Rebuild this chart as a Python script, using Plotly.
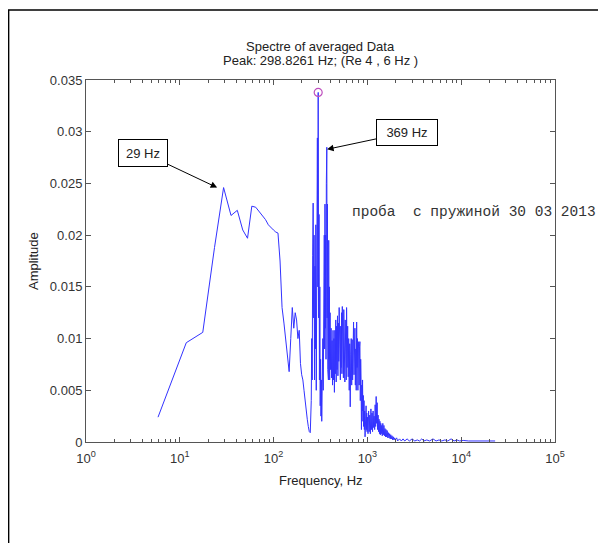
import math
import plotly.graph_objects as go

# ---------------- data ----------------
freq_hz = [
    5.86, 11.72, 17.58, 23.44, 29.30, 35.16, 41.02, 46.88, 52.73, 58.59,
    64.45, 70.31, 76.17, 82.03, 87.89, 93.75, 99.61, 105.47, 111.33, 117.19,
    123.05, 128.91, 134.77, 140.63, 146.48, 152.34, 158.20, 164.06, 169.92, 175.78,
    181.64, 187.50, 193.36, 199.22, 205.08, 210.94, 216.80, 222.66, 228.52, 234.38,
    240.23, 246.09,
    252, 255, 258, 261, 264, 267, 270, 273, 276, 279,
    282, 285, 288, 291, 293, 296, 298.83, 302, 305, 308,
    311, 314, 317, 320, 323, 326, 329, 332, 335, 338,
    341, 344, 347, 350, 353, 356, 359, 362, 365, 369.14,
    372, 375, 378, 381, 384, 387, 390, 393, 396,
    400, 405, 410, 415, 420, 425, 430, 435, 440, 445,
    450, 455, 460, 465, 470, 475, 480, 485, 490, 495,
    500, 505, 510, 515, 520, 525, 530, 535, 540, 545,
    550, 555, 560, 565, 570, 575, 580, 585, 590, 595,
    600, 608, 616, 624, 632, 640, 648, 656, 664, 672,
    680, 688, 696, 704, 712, 720, 728, 736, 744, 752,
    760, 768, 776, 784, 792, 800, 808, 816, 824, 832,
    840, 848, 856, 864, 872, 880, 888, 896, 904, 912,
    920, 928, 936, 944, 952, 960, 968, 976, 984, 992,
    1000, 1015, 1030, 1045, 1060, 1075, 1090, 1105, 1120, 1135,
    1150, 1165, 1180, 1195, 1210, 1225, 1240, 1255, 1270, 1285,
    1300, 1315, 1330, 1345, 1360, 1375, 1390, 1405, 1420, 1440,
    1460, 1480, 1500, 1520, 1540, 1560, 1580, 1600, 1625, 1650,
    1675, 1700, 1725, 1750, 1775, 1800, 1830, 1860, 1890, 1920,
    1950, 1980, 2050, 2100, 2200, 2300, 2400, 2500, 2650, 2800,
    3000, 3200, 3400, 3600, 3800, 4000, 4300, 4600, 5000, 5400,
    5800, 6200, 6700, 7200, 7800, 8400, 9000, 9600, 10500, 12000,
    14000, 17000, 20000, 23000,
]
amplitude = [
    0.0024, 0.0096, 0.0106, 0.0188, 0.0246, 0.0219, 0.0224, 0.0205, 0.0197, 0.0228,
    0.0227, 0.0223, 0.0219, 0.0215, 0.0210, 0.0207, 0.0205, 0.0203, 0.0202, 0.0175,
    0.0130, 0.0115, 0.0100, 0.0085, 0.0068, 0.0100, 0.0130, 0.0110, 0.0125, 0.0118,
    0.0100, 0.0108, 0.0076, 0.0065, 0.0060, 0.0050, 0.0038, 0.0030, 0.0022, 0.0015,
    0.0010, 0.0009,
    0.0040, 0.0100, 0.0060, 0.0180, 0.0231, 0.0120, 0.0200, 0.0060, 0.0170, 0.0090,
    0.0210, 0.0050, 0.0180, 0.0100, 0.0294, 0.0150, 0.0338, 0.0120, 0.0220, 0.0060,
    0.0150, 0.0035, 0.0080, 0.0025, 0.0060, 0.0020, 0.0045, 0.0030, 0.0100, 0.0050,
    0.0160, 0.0070, 0.0200, 0.0090, 0.0230, 0.0110, 0.0200, 0.0080, 0.0250, 0.0285,
    0.0120, 0.0230, 0.0070, 0.0180, 0.0060, 0.0195, 0.0080, 0.0150, 0.0060,
    0.0125, 0.0070, 0.0110, 0.0062, 0.0098, 0.0055, 0.0108, 0.0060, 0.0100, 0.0048,
    0.0108, 0.0066, 0.0118, 0.0058, 0.0112, 0.0070, 0.0122, 0.0064, 0.0115, 0.0078,
    0.0130, 0.0068, 0.0120, 0.0060, 0.0112, 0.0072, 0.0125, 0.0066, 0.0131, 0.0075,
    0.0120, 0.0062, 0.0128, 0.0070, 0.0110, 0.0058, 0.0118, 0.0064, 0.0105, 0.0060,
    0.0130, 0.0072, 0.0112, 0.0063, 0.0100, 0.0050, 0.0095, 0.0034, 0.0085, 0.0100,
    0.0055, 0.0099, 0.0060, 0.0105, 0.0116, 0.0065, 0.0105, 0.0110, 0.0055, 0.0090,
    0.0050, 0.0116, 0.0072, 0.0100, 0.0050, 0.0090, 0.0097, 0.0055, 0.0092, 0.0097,
    0.0040, 0.0080, 0.0060, 0.0012, 0.0055, 0.0030, 0.0060, 0.0020, 0.0045, 0.0015,
    0.0040, 0.0012, 0.0030, 0.0005, 0.0032, 0.0015, 0.0035, 0.0012, 0.0028, 0.0010,
    0.0024, 0.0008, 0.0030, 0.0010, 0.0026, 0.0008, 0.0032, 0.0012, 0.0028, 0.0010,
    0.0030, 0.0014, 0.0025, 0.0012, 0.0036, 0.0015, 0.0044, 0.0018, 0.0038, 0.0012,
    0.0026, 0.0010, 0.0022, 0.0008, 0.0020, 0.0007, 0.0018, 0.0008, 0.0016, 0.0006,
    0.0018, 0.0007, 0.0016, 0.0006, 0.0013, 0.0005, 0.0012, 0.0005, 0.0011, 0.0004,
    0.0009, 0.0004, 0.0008, 0.0003, 0.0007, 0.0003, 0.0006, 0.0002, 0.0005, 0.0002,
    0.0004, 0.0002, 0.0004, 0.0001, 0.0003, 0.0001, 0.0003, 0.0001, 0.0003, 0.0001,
    0.0003, 0.0001, 0.0002, 0.0001, 0.0003, 0.0001, 0.0002, 0.0001, 0.0003, 0.0001,
    0.0002, 0.0001, 0.0002, 0.0001, 0.0003, 0.0001, 0.0002, 0.0001, 0.00015, 0.0001,
    0.00012, 0.0001, 0.0001, 0.0001,
]
peak_freq = [298.8261]
peak_amp = [0.0338]

x_tick_vals = [1, 10, 100, 1000, 10000, 100000]
x_tick_text = ["10<sup>0</sup>", "10<sup>1</sup>", "10<sup>2</sup>",
               "10<sup>3</sup>", "10<sup>4</sup>", "10<sup>5</sup>"]
y_tick_vals = [0, 0.005, 0.01, 0.015, 0.02, 0.025, 0.03, 0.035]
y_tick_text = ["0", "0.005", "0.01", "0.015", "0.02", "0.025", "0.03", "0.035"]

title_line1 = "Spectre of averaged Data"
title_line2 = "Peak: 298.8261 Hz; (Re 4 , 6 Hz )"
note_text = "проба  с пружиной 30 03 2013"
arrow1 = {"text": "29 Hz", "f": 25.0, "a": 0.0246}
arrow2 = {"text": "369 Hz", "f": 372.0, "a": 0.0283}

# ---------------- figure ----------------
FONT = "Liberation Sans, Arial, sans-serif"
AX = "#555555"
FS = 13

fig = go.Figure()
fig.add_trace(go.Scatter(
    x=freq_hz, y=amplitude, mode="lines",
    line=dict(color="rgb(50,50,255)", width=1),
    showlegend=False, hoverinfo="x+y",
))
fig.add_trace(go.Scatter(
    x=peak_freq, y=peak_amp, mode="markers",
    marker=dict(symbol="circle-open", size=8, color="rgb(190,80,190)",
                line=dict(width=1.2)),
    showlegend=False,
))

# page body has an 8px margin: figure is 598x535 so that it ends at the window edge
fig.update_layout(
    width=598, height=535,
    margin=dict(l=78, r=51, t=72, b=101),
    paper_bgcolor="white", plot_bgcolor="white",
    font=dict(family=FONT, size=FS, color="#333333"),
    showlegend=False,
)
fig.update_xaxes(
    type="log", range=[0, 5],
    tickvals=x_tick_vals, ticktext=x_tick_text,
    ticks="inside", ticklen=5, tickcolor=AX,
    minor=dict(ticks="inside", ticklen=3, dtick="D1", tickcolor=AX, showgrid=False),
    showline=True, linecolor=AX, linewidth=1, mirror="ticks",
    showgrid=False, zeroline=False, ticklabelstandoff=4,
    tickfont=dict(family=FONT, size=FS, color="#333333"),
)
fig.update_yaxes(
    range=[0, 0.035],
    tickvals=y_tick_vals, ticktext=y_tick_text,
    ticks="inside", ticklen=5, tickcolor=AX,
    showline=True, linecolor=AX, linewidth=1, mirror="ticks",
    showgrid=False, zeroline=False,
    tickfont=dict(family=FONT, size=FS, color="#333333"),
)

annotations = [
    dict(text=title_line1, xref="paper", yref="paper", x=0.5, y=1.0912,
         xanchor="center", yanchor="middle", showarrow=False,
         font=dict(family=FONT, size=FS, color="#222222")),
    dict(text=title_line2, xref="paper", yref="paper", x=0.5, y=1.0525,
         xanchor="center", yanchor="middle", showarrow=False,
         font=dict(family=FONT, size=FS, color="#222222")),
    dict(text="Frequency, Hz", xref="paper", yref="paper", x=0.5, y=-0.105,
         xanchor="center", yanchor="middle", showarrow=False,
         font=dict(family=FONT, size=FS, color="#222222")),
    dict(text="Amplitude", xref="paper", yref="paper", x=-0.113, y=0.5,
         xanchor="center", yanchor="middle", textangle=-90, showarrow=False,
         font=dict(family=FONT, size=FS, color="#222222")),
    dict(text=note_text, xref="paper", yref="paper", x=0.5629, y=0.6354,
         xanchor="left", yanchor="middle", showarrow=False,
         font=dict(family="Liberation Mono, Courier New, monospace", size=14.5,
                   color="#333333")),
    dict(text=arrow1["text"], x=math.log10(arrow1["f"]), y=arrow1["a"],
         xref="x", yref="y", showarrow=True, ax=-74, ay=-35,
         arrowhead=2, arrowsize=1.3, arrowwidth=1, arrowcolor="black",
         bordercolor="black", borderwidth=1, borderpad=0, bgcolor="white",
         width=48, height=26, font=dict(family=FONT, size=FS, color="#222222")),
    dict(text=arrow2["text"], x=math.log10(arrow2["f"]), y=arrow2["a"],
         xref="x", yref="y", showarrow=True, ax=80, ay=-17,
         arrowhead=2, arrowsize=1.3, arrowwidth=1, arrowcolor="black",
         bordercolor="black", borderwidth=1, borderpad=0, bgcolor="white",
         width=60, height=25, font=dict(family=FONT, size=FS, color="#222222")),
]
fig.update_layout(annotations=annotations)

# outer figure frame (left and top edges visible)
fig.add_shape(type="rect", xref="paper", yref="paper",
              x0=-0.1650, x1=1.3, y0=-0.5, y1=1.1934,
              line=dict(color="black", width=1.5), layer="below")

fig.write_html("out.html")
